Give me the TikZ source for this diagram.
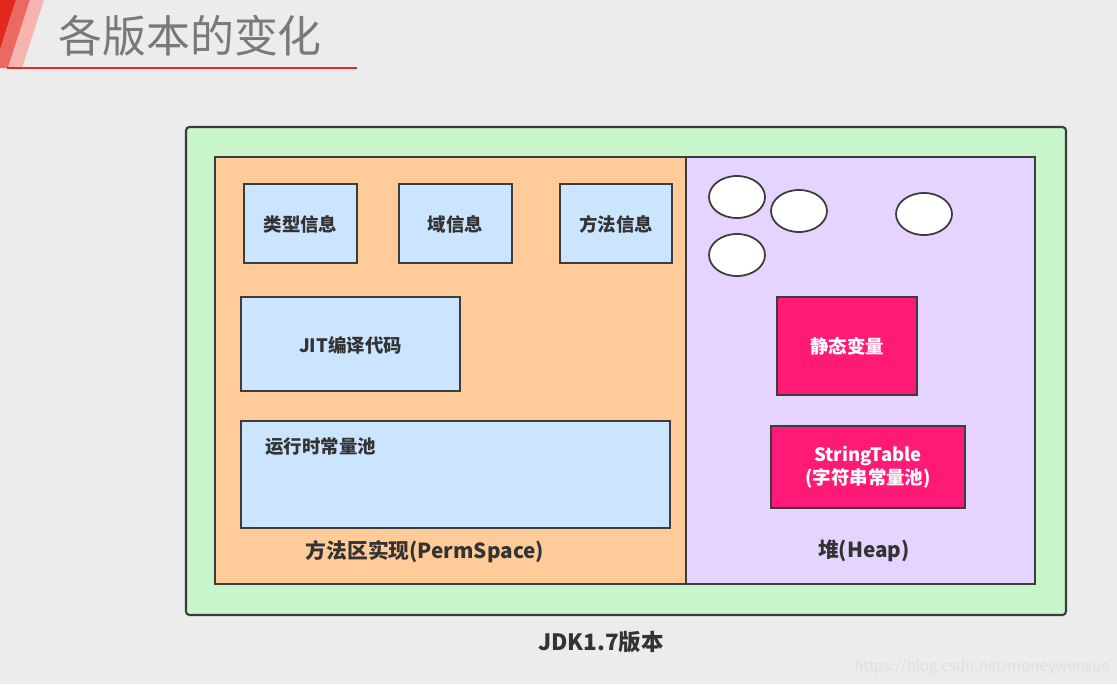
\documentclass[tikz,border=0pt]{standalone}
\usepackage{fontspec}
\setmainfont{Noto Sans CJK SC}
\usepackage{xcolor}
\usepackage{tikz}
\usetikzlibrary{positioning}

\definecolor{bgGray}{RGB}{236,236,236}
\definecolor{jvmGreen}{RGB}{201,245,203}
\definecolor{permOrange}{RGB}{255,204,153}
\definecolor{heapPurple}{RGB}{229,212,255}
\definecolor{infoBlue}{RGB}{204,229,255}
\definecolor{hotPink}{RGB}{255,26,117}
\definecolor{lineDark}{RGB}{60,60,60}
\definecolor{textDark}{RGB}{51,51,51}
\definecolor{titleRed}{RGB}{228,40,30}

\tikzset{
  area/.style={draw=lineDark, line width=1.2pt},
  label/.style={font=\bfseries\fontsize{10.5}{13}\selectfont, text=textDark, inner sep=0pt},
  biglabel/.style={label, font=\bfseries\fontsize{11.8}{14}\selectfont},
  pinklabel/.style={font=\bfseries\fontsize{10.5}{13}\selectfont, text=white, inner sep=0pt, align=center},
  obj/.style={draw=lineDark, line width=1pt, fill=white}
}

\begin{document}
\begin{tikzpicture}[x=0.02cm, y=-0.02cm]
				\useasboundingbox (0,0) rectangle (1117,684);
				\fill[bgGray] (0,0) rectangle (1117,684);
				
				% title
				\fill[titleRed] (0,0) -- (16,0) -- (0,50) -- cycle;
				\fill[titleRed!70!white] (16,0) -- (30,0) -- (8,68) -- (0,68) -- (0,50) -- cycle;
				\fill[titleRed!35!white] (30,0) -- (44,0) -- (22,68) -- (8,68) -- cycle;
				\draw[titleRed, line width=1pt] (7,68) -- (357,68);
				\node[anchor=west, text=gray!95!black, font=\fontsize{25}{30}\selectfont, inner sep=0pt] (title) at (58,36) {各版本的变化};
				
				% regions
				\draw[area, fill=jvmGreen, rounded corners=2pt] (186,127) rectangle (1066,615);
				\draw[area, fill=permOrange] (215,157) rectangle (686,584);
				\draw[area, fill=heapPurple] (686,157) rectangle (1035,584);
				
				% method area
				\draw[area, fill=infoBlue] (244,184) rectangle (357,263);
				\draw[area, fill=infoBlue] (399,184) rectangle (512,263);
				\draw[area, fill=infoBlue] (560,184) rectangle (672,263);
				\draw[area, fill=infoBlue] (241,297) rectangle (460,391);
				\draw[area, fill=infoBlue] (241,421) rectangle (670,528);
				\node[label] (typeInfo) at (300.5,224) {类型信息};
				\node[label] (fieldInfo) at (455.5,224) {域信息};
				\node[label] (methodInfo) at (616,224) {方法信息};
				\node[label] (jitCode) at (350.5,345) {JIT编译代码};
				\node[label, anchor=west] (runtimePool) at (265,447) {运行时常量池};
				\node[biglabel] (permName) at (425,552) {方法区实现(PermSpace)};
				
				% heap
				\draw[obj] (737,197) ellipse (28 and 21);
				\draw[obj] (799,211) ellipse (28 and 21);
				\draw[obj] (924,214) ellipse (28 and 21);
				\draw[obj] (737,255) ellipse (28 and 21);
				\draw[area, fill=hotPink] (777,297) rectangle (917,395);
				\draw[area, fill=hotPink] (771,426) rectangle (965,508);
				\node[pinklabel] (staticVars) at (847,346) {静态变量};
				\node[pinklabel] (stringTable) at (868,467) {StringTable\\(字符串常量池)};
				\node[biglabel] (heapName) at (864,551) {堆(Heap)};
				
				\node[label, font=\bfseries\fontsize{12.8}{15}\selectfont] (version) at (601,642) {JDK1.7版本};
				\node[anchor=east, text=white!75!gray, font=\fontsize{8.5}{10}\selectfont, inner sep=0pt] (mark) at (1110,667) {https://blog.csdn.net/moneywenxue};
			\end{tikzpicture}
\end{document}
